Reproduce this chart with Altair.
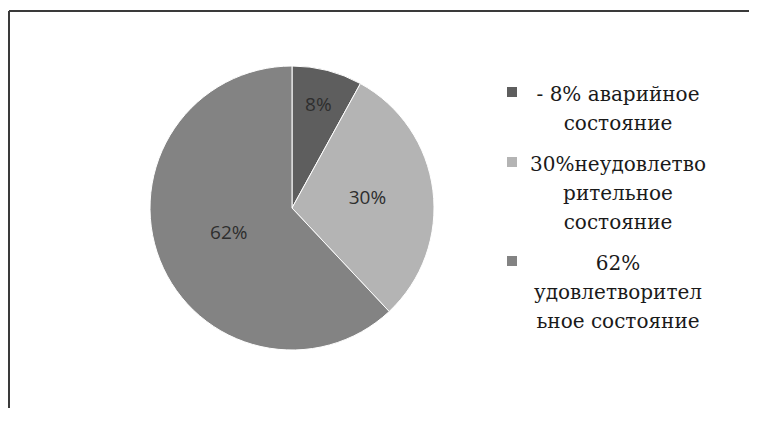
import altair as alt
import pandas as pd

categories = [
    "- 8% аварийное|состояние",
    "30%неудовлетво|рительное|состояние",
    "62%|удовлетворител|ьное  состояние",
]
values = [8, 30, 62]
slice_labels = ["8%", "30%", "62%"]
colors = ["#5e5e5e", "#b4b4b4", "#838383"]
order = [0, 1, 2]

df = pd.DataFrame({"category": categories, "value": values,
                   "label": slice_labels, "order": order})

CX, CY, R = 284, 200, 142

color_scale = alt.Scale(domain=categories, range=colors)

base = alt.Chart(df).encode(
    theta=alt.Theta("value:Q", stack=True),
    order=alt.Order("order:Q"),
)

SERIF = "DejaVu Serif"

arcs = base.mark_arc(outerRadius=R, stroke="white", strokeWidth=1, x=CX, y=CY).encode(
    color=alt.Color(
        "category:N", scale=color_scale, sort=categories,
        legend=alt.Legend(
            orient="none", legendX=494, legendY=74, title=None,
            labelExpr="split(datum.label, '|')",
            labelFont=SERIF, labelFontSize=20, labelColor="#1a1a1a",
            labelAlign="center", labelOffset=96, labelLimit=0,
            labelBaseline="top",
            symbolType="square", symbolSize=100, symbolStrokeWidth=0,
            rowPadding=18, padding=0,
        ),
    )
)

# label placement radius (Excel-like best-fit positions)
label_radius = alt.Scale(type="linear", domain=[8, 30, 62], range=[106, 76, 68])

texts = base.mark_text(x=CX, y=CY, font="Open Sans", fontSize=19,
                       color="#2e2e2e").encode(
    text="label:N",
    radius=alt.Radius("value:Q", scale=label_radius),
)

frame_top = alt.Chart(alt.Data(values=[{}])).mark_rule(color="#3a3a3a", strokeWidth=2).encode(
    x=alt.value(1), x2=alt.value(741), y=alt.value(3))
frame_left = alt.Chart(alt.Data(values=[{}])).mark_rule(color="#3a3a3a", strokeWidth=2).encode(
    x=alt.value(1), y=alt.value(3), y2=alt.value(400))

chart = alt.layer(frame_top, frame_left, arcs, texts).properties(
    width=741, height=400,
    autosize=alt.AutoSizeParams(type="fit", contains="padding"),
    padding=0,
).configure(
    view={"strokeWidth": 0, "stroke": "transparent"},
    style={"guide-label": {"lineHeight": 29, "dy": -7}},
)

chart.save("out.html", embed_options={"renderer": "svg", "actions": False})
